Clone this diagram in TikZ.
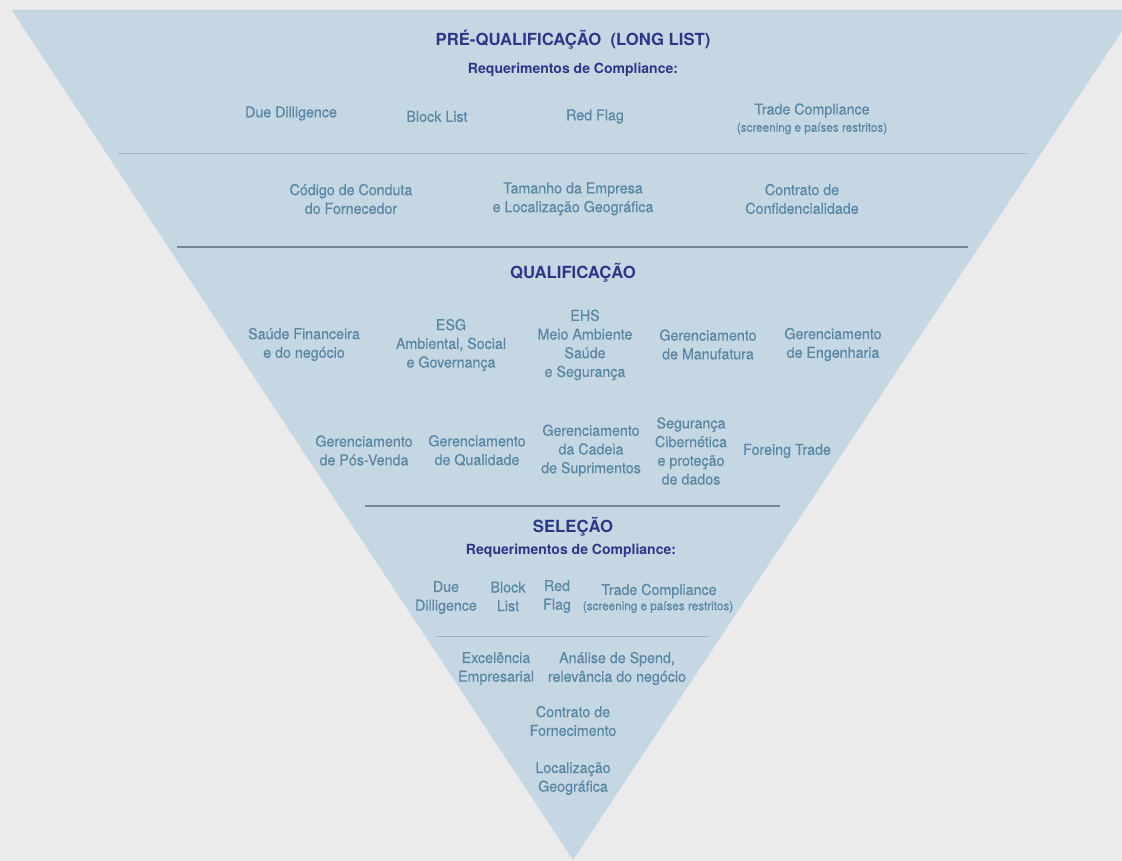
\documentclass[tikz,border=0pt]{standalone}
\usepackage{fontspec}
\setmainfont{TeX Gyre Heros}
\newfontfamily\bodyfont[FakeStretch=0.95, FakeBold=0.35]{TeX Gyre Heros}
\newfontfamily\headfont{TeX Gyre Heros}
\definecolor{bgc}{HTML}{EBEBEB}
\definecolor{tri}{HTML}{C5D7E2}
\definecolor{navy}{HTML}{2C3887}
\definecolor{body}{HTML}{5A87A3}
\definecolor{lineA}{HTML}{A3B3BF}
\definecolor{lineB}{HTML}{7A8791}
\tikzset{
  every node/.style={inner sep=0pt, outer sep=0pt},
  ttl/.style={text=navy, font=\headfont\fontsize{16.7}{20}\selectfont\bfseries},
  sub/.style={text=navy, font=\headfont\fontsize{14}{16}\selectfont\bfseries},
  itm/.style={text=body, align=center, font=\bodyfont\fontsize{15}{18.7}\selectfont},
  sml/.style={text=body, align=center, font=\bodyfont\fontsize{12.3}{13}\selectfont},
  thinline/.style={draw=lineA, line width=0.9pt},
  thickline/.style={draw=lineB, line width=1.6pt}
}
\begin{document}
\begin{tikzpicture}[x=1pt,y=-1pt]
\useasboundingbox (0,0) rectangle (1122,861);
\fill[bgc] (0,0) rectangle (1122,861);
\begin{scope}
\clip (0,0) rectangle (1122,861);
\fill[tri] (11.7,10) -- (1136,10) -- (573,860) -- cycle;
\end{scope}

% Pre-qualificacao
\node[ttl] (t1) at (573,40) {PRÉ-QUALIFICAÇÃO\ \ (LONG LIST)};
\node[sub] (s1) at (573,69.5) {Requerimentos de Compliance:};
\node[itm] (dd1) at (291,113.5) {Due Dilligence};
\node[itm] (bl1) at (437,116.5) {Block List};
\node[itm] (rf1) at (595,116.5) {Red Flag};
\node[itm] (tc1) at (812,110.5) {Trade Compliance};
\node[sml] (sc1) at (812,128.5) {(screening e países restritos)};
\coordinate (l1a) at (118,153);
\coordinate (l1b) at (1027,153);
\draw[thinline] (l1a) -- (l1b);
\node[itm] (cc) at (351,199) {Código de Conduta\\do Fornecedor};
\node[itm] (te) at (573,199) {Tamanho da Empresa\\e Localização Geográfica};
\node[itm] (cf) at (802,199) {Contrato de\\Confidencialidade};
\coordinate (l2a) at (177,247);
\coordinate (l2b) at (968,247);
\draw[thickline] (l2a) -- (l2b);

% Qualificacao
\node[ttl] (t2) at (573,273) {QUALIFICAÇÃO};
\node[itm] (sf) at (304,344.5) {Saúde Financeira\\e do negócio};
\node[itm] (esg) at (451,345) {ESG\\Ambiental, Social\\e Governança};
\node[itm] (ehs) at (585,345) {EHS\\Meio Ambiente\\Saúde\\e Segurança};
\node[itm] (gm) at (708,344.5) {Gerenciamento\\de Manufatura};
\node[itm] (ge) at (833,344.5) {Gerenciamento\\de Engenharia};
\node[itm] (gp) at (364,450.5) {Gerenciamento\\de Pós-Venda};
\node[itm] (gq) at (477,450.5) {Gerenciamento\\de Qualidade};
\node[itm] (gc) at (591,450.5) {Gerenciamento\\da Cadeia\\de Suprimentos};
\node[itm] (sc) at (691,451) {Segurança\\Cibernética\\e proteção\\de dados};
\node[itm] (ft) at (787,451) {Foreing Trade};
\coordinate (l3a) at (365,506);
\coordinate (l3b) at (780,506);
\draw[thickline] (l3a) -- (l3b);

% Selecao
\node[ttl] (t3) at (573,527) {SELEÇÃO};
\node[sub] (s3) at (571,550.5) {Requerimentos de Compliance:};
\node[itm] (dd3) at (446,597.5) {Due\\Dilligence};
\node[itm] (bl3) at (508,596.5) {Block\\List};
\node[itm] (rf3) at (557,596.5) {Red\\Flag};
\node[itm] (tc3) at (659,591) {Trade Compliance};
\node[sml] (sc3) at (658,607) {(screening e países restritos)};
\coordinate (l4a) at (436,636);
\coordinate (l4b) at (709,636);
\draw[thinline] (l4a) -- (l4b);
\node[itm] (ee) at (496,668.5) {Excelência\\Empresarial};
\node[itm] (as) at (617,668.5) {Análise de Spend,\\relevância do negócio};
\node[itm] (cfo) at (573,721) {Contrato de\\Fornecimento};
\node[itm] (lg) at (573,778.5) {Localização\\Geográfica};
\end{tikzpicture}
\end{document}
